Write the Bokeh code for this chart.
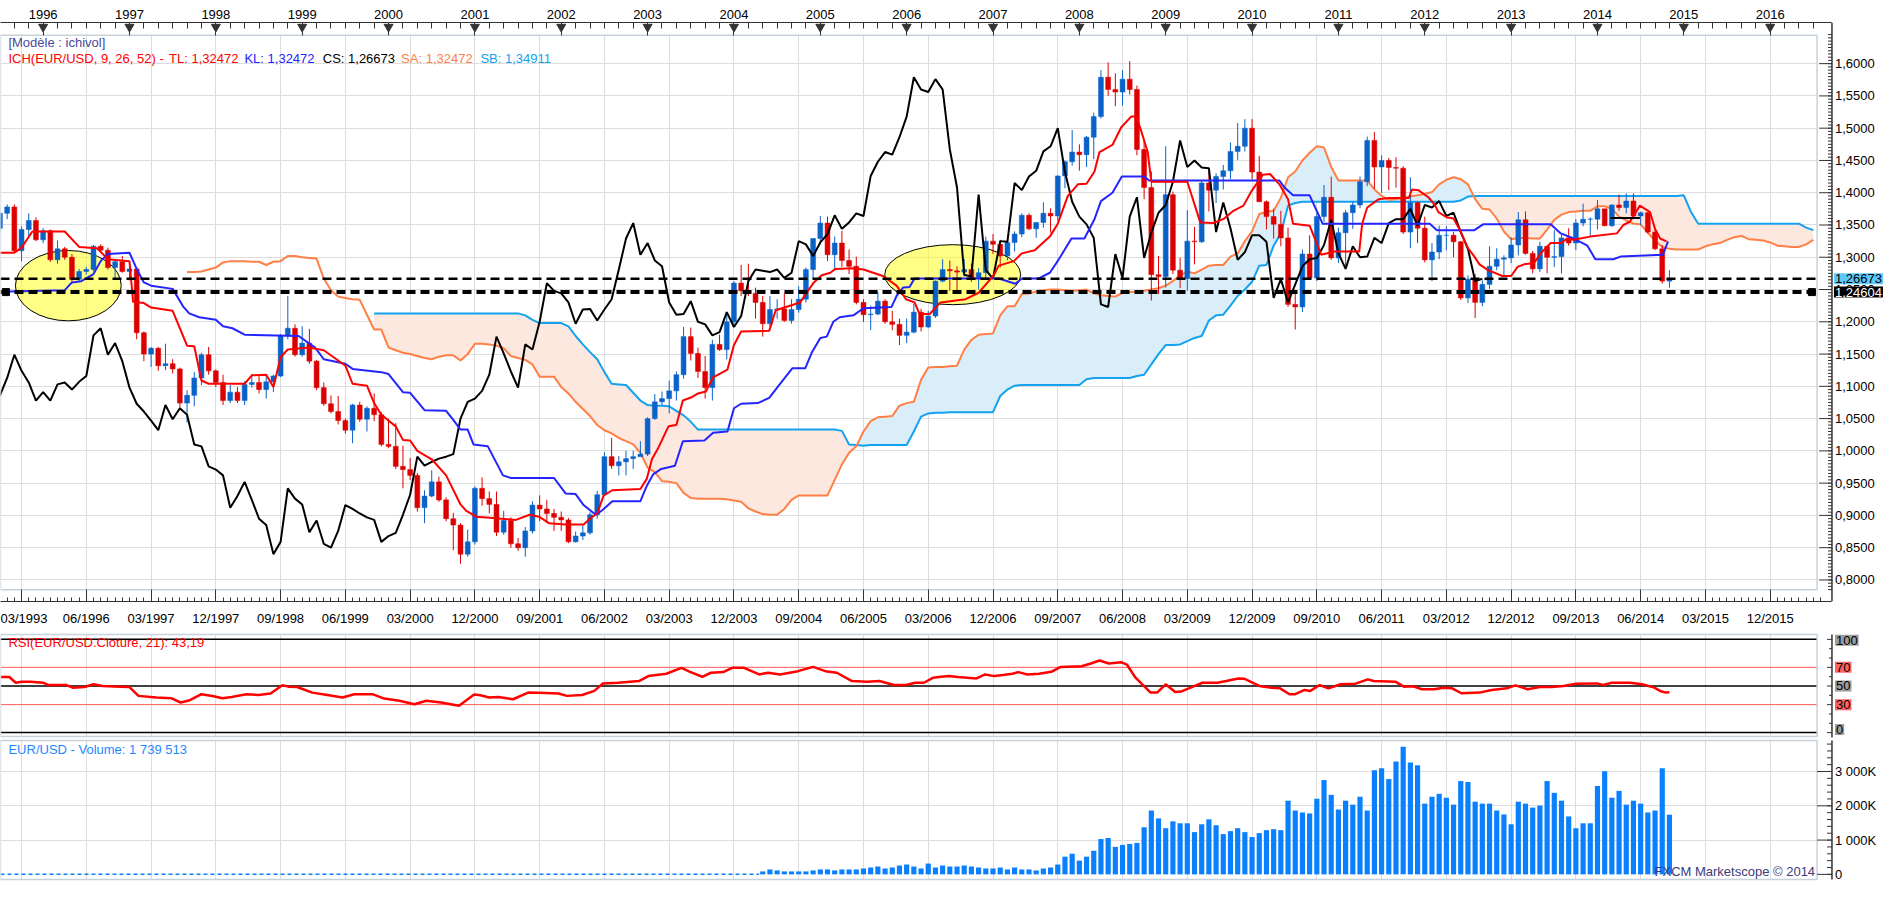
import numpy as np
from bokeh.plotting import figure
from bokeh.models import Range1d, LinearAxis, FixedTicker, Label, Grid
from bokeh.layouts import column
from bokeh.embed import file_html
from bokeh.resources import INLINE
from bokeh.core.properties import value

# ---------------- DATA (x = month index, 1 = Jan 1996) ----------------
FIRST_MONTH = -6
FIRST_OPEN = 1.345
CLOSE = [1.368, 1.378, 1.310, 1.343, 1.357, 1.327,
         1.341, 1.296, 1.313, 1.300, 1.266, 1.278, 1.281, 1.317, 1.311, 1.284, 1.293, 1.278,
         1.282, 1.183, 1.150, 1.159, 1.132, 1.135, 1.127, 1.074, 1.086, 1.113, 1.149, 1.124,
         1.106, 1.078, 1.091, 1.078, 1.103, 1.106, 1.095, 1.107, 1.116, 1.179, 1.190, 1.149,
         1.167, 1.139, 1.098, 1.073, 1.061, 1.047, 1.032, 1.071, 1.049, 1.066, 1.056, 1.010,
         1.007, 0.976, 0.971, 0.962, 0.912, 0.930, 0.952, 0.924, 0.895, 0.885, 0.840, 0.859,
         0.942, 0.926, 0.917, 0.874, 0.892, 0.856, 0.850, 0.876, 0.916, 0.910, 0.903, 0.897,
         0.893, 0.859, 0.868, 0.873, 0.901, 0.932, 0.991, 0.977, 0.983, 0.988, 0.991, 0.995,
         1.050, 1.076, 1.081, 1.093, 1.118, 1.177, 1.151, 1.123, 1.098, 1.165, 1.157, 1.200,
         1.260, 1.248, 1.244, 1.230, 1.197, 1.219, 1.220, 1.202, 1.219, 1.235, 1.281, 1.329,
         1.353, 1.304, 1.322, 1.295, 1.286, 1.230, 1.211, 1.212, 1.232, 1.200, 1.196, 1.179,
         1.184, 1.215, 1.192, 1.209, 1.263, 1.281, 1.279, 1.277, 1.281, 1.268, 1.276, 1.325,
         1.320, 1.302, 1.323, 1.336, 1.365, 1.344, 1.354, 1.368, 1.364, 1.426, 1.448, 1.463,
         1.459, 1.486, 1.518, 1.579, 1.560, 1.556, 1.576, 1.560, 1.467, 1.408, 1.273, 1.270,
         1.397, 1.280, 1.267, 1.325, 1.324, 1.415, 1.404, 1.425, 1.434, 1.464, 1.472, 1.500,
         1.432, 1.386, 1.363, 1.351, 1.330, 1.227, 1.223, 1.305, 1.268, 1.363, 1.393, 1.299,
         1.338, 1.369, 1.381, 1.417, 1.481, 1.440, 1.450, 1.439, 1.438, 1.339, 1.385, 1.345,
         1.296, 1.308, 1.334, 1.334, 1.324, 1.237, 1.266, 1.230, 1.258, 1.286, 1.297, 1.299,
         1.319, 1.358, 1.306, 1.282, 1.317, 1.300, 1.301, 1.330, 1.322, 1.353, 1.359, 1.359,
         1.375, 1.349, 1.381, 1.377, 1.387, 1.364, 1.369, 1.339, 1.313, 1.263, 1.26673]
HIGH = [1.372, 1.382, 1.382, 1.348, 1.368, 1.362,
        1.345, 1.343, 1.326, 1.316, 1.305, 1.282, 1.285, 1.319, 1.320, 1.315, 1.296, 1.302,
        1.286, 1.285, 1.185, 1.161, 1.161, 1.166, 1.142, 1.129, 1.094, 1.122, 1.152, 1.161,
        1.126, 1.118, 1.102, 1.099, 1.108, 1.119, 1.118, 1.118, 1.118, 1.181, 1.240, 1.196,
        1.193, 1.189, 1.141, 1.106, 1.086, 1.085, 1.050, 1.073, 1.076, 1.069, 1.089, 1.060,
        1.050, 1.043, 1.008, 0.989, 0.966, 0.939, 0.970, 0.960, 0.928, 0.904, 0.888, 0.878,
        0.945, 0.959, 0.937, 0.937, 0.907, 0.897, 0.865, 0.882, 0.922, 0.931, 0.924, 0.910,
        0.906, 0.896, 0.875, 0.885, 0.905, 0.938, 0.998, 1.020, 0.992, 1.000, 1.000, 1.015,
        1.052, 1.088, 1.092, 1.109, 1.123, 1.192, 1.191, 1.160, 1.147, 1.172, 1.180, 1.215,
        1.263, 1.288, 1.290, 1.253, 1.240, 1.240, 1.235, 1.244, 1.235, 1.255, 1.284, 1.329,
        1.364, 1.363, 1.332, 1.341, 1.312, 1.301, 1.235, 1.225, 1.247, 1.235, 1.217, 1.205,
        1.205, 1.228, 1.220, 1.217, 1.264, 1.297, 1.295, 1.286, 1.297, 1.290, 1.283, 1.332,
        1.336, 1.327, 1.328, 1.340, 1.368, 1.368, 1.354, 1.385, 1.376, 1.427, 1.450, 1.497,
        1.475, 1.488, 1.524, 1.590, 1.602, 1.585, 1.590, 1.604, 1.566, 1.481, 1.433, 1.302,
        1.472, 1.402, 1.299, 1.373, 1.347, 1.419, 1.433, 1.430, 1.443, 1.478, 1.508, 1.514,
        1.514, 1.457, 1.388, 1.375, 1.372, 1.346, 1.243, 1.312, 1.334, 1.369, 1.412, 1.425,
        1.346, 1.373, 1.386, 1.425, 1.487, 1.494, 1.458, 1.454, 1.455, 1.441, 1.424, 1.385,
        1.363, 1.322, 1.349, 1.348, 1.339, 1.325, 1.272, 1.274, 1.264, 1.317, 1.314, 1.303,
        1.331, 1.370, 1.371, 1.310, 1.324, 1.318, 1.342, 1.335, 1.345, 1.359, 1.383, 1.362,
        1.389, 1.374, 1.382, 1.397, 1.399, 1.399, 1.371, 1.370, 1.345, 1.319, 1.280]
LOW = [1.340, 1.359, 1.307, 1.294, 1.331, 1.325,
       1.322, 1.293, 1.290, 1.296, 1.262, 1.262, 1.273, 1.278, 1.308, 1.281, 1.268, 1.276,
       1.264, 1.173, 1.139, 1.130, 1.124, 1.125, 1.120, 1.067, 1.044, 1.069, 1.102, 1.118,
       1.099, 1.071, 1.074, 1.074, 1.071, 1.098, 1.089, 1.081, 1.091, 1.114, 1.173, 1.146,
       1.146, 1.135, 1.094, 1.070, 1.058, 1.041, 1.027, 1.012, 1.045, 1.030, 1.046, 1.007,
       1.004, 0.972, 0.942, 0.955, 0.906, 0.888, 0.928, 0.921, 0.891, 0.846, 0.825, 0.836,
       0.855, 0.915, 0.903, 0.868, 0.870, 0.850, 0.845, 0.836, 0.872, 0.891, 0.888, 0.876,
       0.876, 0.857, 0.858, 0.862, 0.870, 0.895, 0.930, 0.972, 0.962, 0.962, 0.972, 0.992,
       0.992, 1.048, 1.071, 1.058, 1.078, 1.112, 1.140, 1.113, 1.081, 1.078, 1.155, 1.142,
       1.196, 1.240, 1.240, 1.205, 1.177, 1.193, 1.205, 1.200, 1.197, 1.214, 1.230, 1.267,
       1.320, 1.294, 1.281, 1.285, 1.274, 1.227, 1.200, 1.187, 1.210, 1.197, 1.187, 1.164,
       1.167, 1.182, 1.185, 1.190, 1.206, 1.261, 1.248, 1.248, 1.270, 1.262, 1.250, 1.269,
       1.305, 1.284, 1.295, 1.309, 1.331, 1.342, 1.330, 1.346, 1.338, 1.357, 1.407, 1.442,
       1.434, 1.440, 1.452, 1.515, 1.550, 1.534, 1.535, 1.552, 1.458, 1.390, 1.233, 1.243,
       1.253, 1.274, 1.252, 1.248, 1.289, 1.322, 1.371, 1.384, 1.405, 1.421, 1.451, 1.464,
       1.421, 1.386, 1.343, 1.329, 1.317, 1.223, 1.188, 1.215, 1.265, 1.263, 1.355, 1.296,
       1.291, 1.287, 1.344, 1.376, 1.410, 1.406, 1.400, 1.404, 1.408, 1.336, 1.314, 1.322,
       1.292, 1.263, 1.297, 1.311, 1.300, 1.234, 1.229, 1.206, 1.224, 1.251, 1.280, 1.269,
       1.291, 1.303, 1.304, 1.275, 1.277, 1.275, 1.285, 1.275, 1.318, 1.311, 1.348, 1.332,
       1.343, 1.348, 1.347, 1.372, 1.368, 1.360, 1.350, 1.337, 1.311, 1.259, 1.2527]
CHIKOU_SHIFT = 26

TENKAN = [(-6, 1.307), (-4, 1.307), (-3, 1.315), (-1.5, 1.340), (3, 1.340), (5, 1.316), (7.5, 1.314),
          (9, 1.297), (12, 1.294), (12.5, 1.231), (14, 1.229), (15, 1.222), (18, 1.217), (20, 1.163),
          (21, 1.162), (22, 1.109), (23, 1.104), (28, 1.104), (29, 1.117), (31, 1.118), (32, 1.099),
          (33, 1.145), (34, 1.157), (37, 1.160), (39, 1.156), (41, 1.140), (42, 1.132), (43, 1.104),
          (45, 1.101), (46, 1.074), (47, 1.056), (49, 1.038), (50, 1.017), (51, 1.016), (52, 1.000),
          (54, 0.987), (56, 0.962), (58, 0.917), (58.8, 0.907), (60.2, 0.898), (62.5, 0.896),
          (65.7, 0.893), (67.6, 0.901), (68.9, 0.898), (70.3, 0.888), (72.6, 0.886), (75.1, 0.886),
          (76.1, 0.896), (77, 0.903), (77.9, 0.931), (79.1, 0.939), (83, 0.941), (83.9, 0.957),
          (84.6, 0.987), (85.5, 1.005), (86.9, 1.038), (88, 1.040), (88.9, 1.078), (90.1, 1.083),
          (91, 1.089), (92.1, 1.092), (93.1, 1.114), (95.1, 1.126), (96, 1.164), (97, 1.185),
          (100.9, 1.186), (101.8, 1.218), (105.2, 1.230), (107.1, 1.261), (108.2, 1.272),
          (109.4, 1.276), (110.1, 1.282), (112.4, 1.283), (114, 1.281), (116.7, 1.271),
          (118.6, 1.256), (119.9, 1.235), (121.1, 1.230), (121.8, 1.212), (123.2, 1.212),
          (124.7, 1.230), (128.2, 1.235), (130, 1.245), (132.1, 1.272), (132.8, 1.287),
          (134.9, 1.294), (136, 1.306), (137.8, 1.311), (139.9, 1.332), (141, 1.352), (142.4, 1.395),
          (143.8, 1.413), (145, 1.414), (146.1, 1.433), (146.8, 1.463), (148.6, 1.474), (149.8, 1.501),
          (151.2, 1.518), (151.9, 1.518), (152.5, 1.499), (153.5, 1.463), (154, 1.417), (159, 1.417),
          (160.8, 1.354), (162.6, 1.353), (164, 1.359), (165.4, 1.372), (166.8, 1.380), (167.9, 1.402),
          (169.5, 1.428), (170.5, 1.429), (171.8, 1.413), (173, 1.390), (173.7, 1.352), (176, 1.349),
          (177.6, 1.304), (179.5, 1.309), (182.9, 1.309), (183.3, 1.352), (184, 1.377), (185.6, 1.390),
          (187, 1.392), (189.8, 1.392), (190.2, 1.405), (191.1, 1.404), (192.5, 1.393), (193.4, 1.381),
          (193.9, 1.370), (195, 1.362), (196, 1.360), (196.9, 1.342), (198, 1.314), (198.9, 1.301),
          (199.6, 1.289), (200.8, 1.280), (202.8, 1.271), (204, 1.271), (204.9, 1.285), (205.8, 1.289),
          (207.2, 1.291), (208.1, 1.306), (209.5, 1.322), (210.9, 1.322), (211.8, 1.329), (212.7, 1.327),
          (213.6, 1.329), (215, 1.332), (218.7, 1.337), (219.6, 1.350), (220.5, 1.355), (221.9, 1.380),
          (223.3, 1.370), (224, 1.344), (224.7, 1.329), (225.6, 1.32472)]
KIJUN = [(-4.6, 1.247), (3, 1.249), (4, 1.261), (5.3, 1.263), (7, 1.274), (8, 1.294), (9, 1.305),
         (12, 1.307), (13, 1.282), (14, 1.261), (15, 1.256), (18, 1.251), (19.5, 1.223), (20.3, 1.213),
         (21.7, 1.207), (24, 1.203), (25, 1.193), (26.3, 1.190), (28, 1.180), (35.5, 1.178),
         (37.8, 1.160), (39, 1.142), (42, 1.135), (43, 1.127), (47, 1.122), (48, 1.119), (50, 1.091),
         (51, 1.090), (53, 1.063), (56, 1.062), (57, 1.048), (58, 1.033), (59, 1.033), (59.8, 1.010),
         (61.8, 1.007), (63.9, 0.962), (65, 0.958), (71, 0.958), (72.6, 0.934), (74, 0.933),
         (75.1, 0.916), (76.8, 0.901), (77.7, 0.908), (79.1, 0.922), (83, 0.922), (83.9, 0.946),
         (84.8, 0.964), (85.9, 0.972), (87.8, 0.977), (88.9, 1.015), (91.9, 1.016), (93.1, 1.028),
         (95.1, 1.030), (96, 1.066), (97, 1.073), (99.3, 1.074), (100.9, 1.082), (102, 1.098),
         (104.1, 1.128), (105.9, 1.128), (106.8, 1.152), (108, 1.175), (108.9, 1.177), (109.8, 1.200),
         (110.7, 1.207), (112.6, 1.210), (114, 1.221), (117.9, 1.223), (118.6, 1.240), (119.5, 1.253),
         (120.4, 1.254), (121.1, 1.267), (132.8, 1.267), (135.1, 1.259), (136, 1.267), (138.3, 1.267),
         (139.9, 1.276), (141.1, 1.296), (142.9, 1.329), (144.7, 1.329), (146.1, 1.359), (147, 1.387),
         (148.6, 1.400), (149.9, 1.425), (153, 1.425), (153.7, 1.419), (171.8, 1.419), (172.5, 1.408),
         (173.7, 1.396), (176, 1.396), (177.8, 1.352), (192.7, 1.352), (193.7, 1.342), (198.9, 1.342),
         (200.1, 1.351), (209.5, 1.351), (210.9, 1.337), (212.7, 1.329), (214.6, 1.318), (215.7, 1.297),
         (218.2, 1.297), (219.2, 1.301), (225.1, 1.304), (225.8, 1.32472)]

SSA_START = 20
SSA = [1.277, 1.277, 1.278, 1.281, 1.284, 1.292, 1.294, 1.294, 1.294, 1.293,
       1.293, 1.288, 1.293, 1.294, 1.302, 1.302, 1.300, 1.299, 1.298, 1.267,
       1.249, 1.239, 1.237, 1.235, 1.234, 1.211, 1.188, 1.188, 1.160, 1.156,
       1.152, 1.150, 1.147, 1.144, 1.142, 1.146, 1.148, 1.148, 1.140, 1.150,
       1.166, 1.166, 1.165, 1.163, 1.159, 1.147, 1.144, 1.141, 1.134, 1.115,
       1.115, 1.115, 1.099, 1.089, 1.076, 1.065, 1.054, 1.040, 1.032, 1.027,
       1.020, 1.015, 1.010, 0.997, 0.974, 0.967, 0.953, 0.952, 0.950, 0.935,
       0.927, 0.926, 0.926, 0.926, 0.926, 0.925, 0.923, 0.921, 0.911, 0.906,
       0.902, 0.901, 0.901, 0.910, 0.924, 0.931, 0.931, 0.931, 0.931, 0.931,
       0.955, 0.979, 0.997, 1.007, 1.030, 1.046, 1.052, 1.053, 1.054, 1.070,
       1.074, 1.076, 1.110, 1.129, 1.130, 1.130, 1.131, 1.132, 1.157, 1.172,
       1.180, 1.181, 1.182, 1.210, 1.224, 1.224, 1.243, 1.244, 1.247, 1.249,
       1.250, 1.250, 1.249, 1.248, 1.249, 1.250, 1.244, 1.241, 1.240, 1.239,
       1.245, 1.246, 1.247, 1.248, 1.250, 1.252, 1.256, 1.263, 1.272, 1.278,
       1.275, 1.281, 1.287, 1.288, 1.288, 1.301, 1.306, 1.325, 1.340, 1.367,
       1.370, 1.372, 1.392, 1.424, 1.433, 1.450, 1.462, 1.472, 1.470, 1.440,
       1.419, 1.419, 1.419, 1.419, 1.419, 1.405, 1.395, 1.389, 1.390, 1.392,
       1.394, 1.396, 1.398, 1.401, 1.413, 1.420, 1.424, 1.421, 1.413, 1.390,
       1.375, 1.374, 1.360, 1.340, 1.328, 1.330, 1.330, 1.329, 1.329, 1.343,
       1.358, 1.366, 1.370, 1.371, 1.372, 1.372, 1.379, 1.379, 1.375, 1.363,
       1.357, 1.352, 1.351, 1.338, 1.326, 1.316, 1.313, 1.312, 1.312, 1.312,
       1.312, 1.317, 1.320, 1.322, 1.327, 1.331, 1.333, 1.328, 1.327, 1.326,
       1.323, 1.318, 1.317, 1.316, 1.316, 1.320, 1.327]
SSB_START = 46
SSB = [1.213, 1.213, 1.213, 1.213, 1.213, 1.213, 1.213, 1.213, 1.213, 1.213,
       1.213, 1.213, 1.213, 1.213, 1.213, 1.213, 1.213, 1.213, 1.213, 1.213,
       1.213, 1.210, 1.203, 1.198, 1.198, 1.198, 1.198, 1.193, 1.178, 1.165,
       1.153, 1.142, 1.122, 1.104, 1.103, 1.102, 1.090, 1.078, 1.071, 1.070,
       1.070, 1.069, 1.062, 1.055, 1.045, 1.033, 1.033, 1.033, 1.033, 1.033,
       1.033, 1.033, 1.033, 1.033, 1.033, 1.033, 1.033, 1.033, 1.033, 1.033,
       1.033, 1.033, 1.033, 1.033, 1.033, 1.031, 1.010, 1.009, 1.008, 1.009,
       1.009, 1.009, 1.009, 1.009, 1.009, 1.030, 1.053, 1.058, 1.059, 1.059,
       1.060, 1.060, 1.060, 1.060, 1.060, 1.060, 1.060, 1.085, 1.095, 1.101,
       1.102, 1.102, 1.102, 1.102, 1.102, 1.102, 1.102, 1.102, 1.102, 1.111,
       1.113, 1.113, 1.113, 1.113, 1.113, 1.113, 1.116, 1.118, 1.134, 1.150,
       1.164, 1.164, 1.165, 1.170, 1.175, 1.178, 1.202, 1.210, 1.211, 1.225,
       1.240, 1.250, 1.262, 1.287, 1.288, 1.318, 1.337, 1.380, 1.384, 1.386,
       1.386, 1.386, 1.386, 1.386, 1.386, 1.386, 1.386, 1.386, 1.386, 1.386,
       1.386, 1.386, 1.386, 1.386, 1.386, 1.386, 1.386, 1.386, 1.386, 1.386,
       1.386, 1.388, 1.394, 1.395, 1.395, 1.395, 1.395, 1.395, 1.395, 1.395,
       1.395, 1.395, 1.395, 1.395, 1.395, 1.395, 1.395, 1.395, 1.395, 1.395,
       1.395, 1.395, 1.395, 1.395, 1.395, 1.395, 1.395, 1.395, 1.395, 1.395,
       1.395, 1.395, 1.396, 1.370, 1.352, 1.352, 1.352, 1.352, 1.352, 1.352,
       1.352, 1.352, 1.352, 1.352, 1.352, 1.352, 1.352, 1.352, 1.352, 1.346,
       1.342]

RSI = [(-5.9, 59.6), (-4.7, 59.6), (-3.8, 53.5), (-3, 54.6), (-1.75, 54.6), (0, 53.5), (0.75, 51.0),
       (3.25, 51.0), (4.1, 48.2), (5.75, 48.9), (7, 51.8), (8.25, 50.0), (10.75, 49.3), (12, 48.9),
       (13.25, 39.4), (15.75, 37.6), (17.8, 36.9), (19.1, 32.3), (20.4, 34.8), (22, 41.2), (23.7, 39.0),
       (24.9, 36.9), (26.2, 38.3), (28.25, 41.2), (29.9, 40.4), (31.6, 41.9), (33.25, 50.7), (34.1, 49.3),
       (35.3, 48.9), (37.4, 42.9), (39.5, 40.4), (41.6, 37.6), (43.25, 41.2), (45.75, 41.2), (47.4, 36.5),
       (49.5, 34.1), (51.6, 30.5), (53.25, 34.1), (55.3, 32.3), (57.8, 28.8), (59.9, 40.8), (60.75, 40.1),
       (62, 37.6), (63.25, 38.3), (65.3, 35.8), (67.4, 42.9), (69.9, 42.6), (71.6, 41.9), (72.8, 39.4),
       (74.9, 40.4), (76.6, 44.7), (77.8, 52.8), (79.9, 53.5), (82.8, 55.3), (84.1, 60.6), (86.6, 63.1),
       (88.7, 69.5), (89.9, 65.2), (91.6, 59.9), (92.8, 64.2), (94.5, 64.9), (95.75, 69.5), (97.4, 69.5),
       (99.5, 62.4), (100.75, 64.2), (102.4, 62.4), (104.9, 65.9), (107, 70.5), (108.7, 65.9),
       (110.3, 64.2), (112.4, 55.3), (114.5, 54.6), (116.2, 55.3), (118.25, 51.0), (119.9, 51.0),
       (121.2, 53.5), (122.4, 53.5), (123.7, 58.9), (124.75, 59.9), (125.9, 60.6), (127.1, 59.6),
       (129.7, 58.1), (130.9, 62.4), (132.2, 60.6), (133.4, 61.7), (134.7, 63.1), (135.5, 64.9),
       (136.8, 62.4), (138.4, 63.1), (140.1, 65.2), (141.4, 70.5), (144.3, 71.2), (145.6, 74.1),
       (146.8, 77.3), (148.1, 74.1), (149.8, 75.5), (150.6, 73.0), (151.8, 58.9), (153.9, 42.9),
       (154.8, 42.9), (156, 51.8), (157.3, 43.6), (158.1, 44.0), (159.8, 49.3), (161.1, 53.5),
       (163.2, 53.5), (164.4, 55.3), (166.1, 58.1), (166.9, 57.8), (169, 50.0), (170.7, 48.2),
       (171.9, 47.5), (173.2, 41.2), (174, 41.2), (175.3, 45.8), (176.1, 44.7), (177.4, 51.0),
       (178.6, 47.5), (180.3, 51.8), (182.4, 52.5), (184.1, 57.1), (184.9, 55.3), (187.9, 54.6),
       (189.1, 49.3), (190.4, 49.6), (191.6, 46.5), (193.3, 46.5), (194.6, 48.2), (195.8, 47.5),
       (197.1, 42.2), (199.6, 42.9), (201.3, 45.8), (203.4, 47.5), (204.6, 50.7), (206.3, 46.5),
       (208, 48.9), (209.6, 48.9), (211.3, 50.0), (213, 52.5), (215.9, 52.8), (216.8, 51.0),
       (218, 53.5), (220.5, 53.5), (222.2, 51.8), (223.9, 48.2), (224.7, 44.7), (225.5, 42.9),
       (226, 43.19)]
RSI_LEVELS_BLACK = [0, 50, 100]
RSI_LEVELS_RED = [30, 70]
RSI_MINOR = [10, 20, 40, 60, 80, 90]

VOL_START = 100
VOLUME_K = [86, 143, 115, 86, 86, 86, 86, 115, 143, 143,
            115, 143, 143, 143, 172, 200, 229, 172, 200, 258,
            287, 229, 172, 315, 200, 258, 229, 229, 258, 229,
            200, 172, 172, 200, 143, 200, 143, 143, 115, 172,
            200, 287, 516, 602, 401, 516, 688, 1032, 1060, 802,
            860, 888, 917, 1375, 1862, 1633, 1347, 1547, 1490, 1490,
            1232, 1461, 1605, 1433, 1175, 1261, 1347, 1232, 1089, 1203,
            1289, 1318, 1289, 2149, 1862, 1805, 1777, 2206, 2751, 2321,
            1891, 2149, 2034, 2264, 1862, 3037, 3095, 2779, 3295, 3725,
            3266, 3181, 2063, 2264, 2350, 2235, 2034, 2722, 2693, 2120,
            2063, 2063, 1862, 1748, 1461, 2120, 2063, 1948, 2006, 2722,
            2378, 2149, 1691, 1347, 1490, 1490, 2579, 3009, 2235, 2436,
            2034, 2149, 2063, 1805, 1862, 3095, 1740]
VOLUME_LAST = "1 739 513"
VOL_ZERO_END = 99.5
VOL_TICKS = [0, 1000, 2000, 3000]
VOL_TICK_LABELS = ["0", "1 000K", "2 000K", "3 000K"]

LAST_CLOSE = 1.26673
SUPPORT = 1.24604
SUPPORT_MARK_K = [-5.17, 245.8]
MARK_SEG_K = [217.8, 221.9]
MARK_SEG_P = [1.361, 1.361]
ELLIPSE_K = [3.5, 126.4]
ELLIPSE_P = [1.256, 1.273]
ELLIPSE_W = [14.7, 18.9]
ELLIPSE_H = [0.109, 0.093]

YEAR_LABELS = ["1996", "1997", "1998", "1999", "2000", "2001", "2002", "2003", "2004", "2005",
               "2006", "2007", "2008", "2009", "2010", "2011", "2012", "2013", "2014", "2015", "2016"]
DATE_LABELS = ["03/1993", "06/1996", "03/1997", "12/1997", "09/1998", "06/1999", "03/2000",
               "12/2000", "09/2001", "06/2002", "03/2003", "12/2003", "09/2004", "06/2005",
               "03/2006", "12/2006", "09/2007", "06/2008", "03/2009", "12/2009", "09/2010",
               "06/2011", "03/2012", "12/2012", "09/2013", "06/2014", "03/2015", "12/2015"]
PRICE_TICKS = [0.80, 0.85, 0.90, 0.95, 1.00, 1.05, 1.10, 1.15, 1.20, 1.25, 1.30, 1.35, 1.40,
               1.45, 1.50, 1.55, 1.60]

# ---------------- styling / geometry ----------------
FONT = "Liberation Sans"
UP, DOWN = "#0a62c8", "#dc0000"
TENKAN_C, KIJUN_C, SSA_C, SSB_C = "#ff0000", "#2424ff", "#ff7f45", "#12a2f0"
PEACH, SKY = "#fde8df", "#daeefa"
GRID, FRAME, AXIS = "#dddddd", "#c8d2dc", "#333333"
VOL_C = "#0a80ff"
W = 1887
PXM = 7.257            # reference pixels per month


def kx(px):            # reference pixel x -> month index
    return (px - 43.0) / PXM


def pp(py):            # reference pixel y -> price
    return 1.6 - (py - 64.0) / 658.75


def rr(py):            # reference pixel y -> RSI
    return (747.0 - py) / 0.95


def vv(py):            # reference pixel y -> volume (K)
    return (891.7 - py) / 0.035


X0, XE = kx(0), kx(1903)       # full frame
XF, XA = kx(1832), kx(1847)    # inner frame edge, axis line
XL = kx(1850)                  # axis labels
xr = Range1d(X0, XE)
DATE_K = [-3 + 9 * i for i in range(len(DATE_LABELS))]
YEAR_K = [12 * i for i in range(len(YEAR_LABELS))]


def fmt(v, n):
    return f"{v:.{n}f}".replace(".", ",")


def style_axis(ax, ticks, minor, overrides, tin, minin, standoff):
    ax.ticker = FixedTicker(ticks=ticks, minor_ticks=minor)
    ax.major_label_overrides = overrides
    ax.major_tick_in, ax.major_tick_out = tin, 0
    ax.minor_tick_in, ax.minor_tick_out = minin, 0
    ax.axis_line_color = AXIS
    ax.major_tick_line_color = AXIS
    ax.minor_tick_line_color = AXIS
    ax.major_label_text_font = FONT
    ax.major_label_text_font_size = "13px"
    ax.major_label_text_color = "black"
    ax.major_label_standoff = standoff
    ax.bounds = (X0, XA)


def make_fig(height, yr, top, bottom, xloc=None):
    p = figure(width=W, height=height, x_range=xr, y_range=yr, output_backend="svg",
               toolbar_location=None, x_axis_location=xloc, y_axis_location=None,
               min_border_left=0, min_border_right=0, min_border_top=top, min_border_bottom=bottom,
               background_fill_color="white", border_fill_color="white", outline_line_color=None)
    for g in p.grid:
        g.visible = False
    p.add_layout(Grid(dimension=0, ticker=FixedTicker(ticks=DATE_K), grid_line_color=GRID))
    return p


def white(p, l, r, b, t):
    p.quad(left=[l], right=[r], bottom=[b], top=[t], fill_color="white", line_color=None)


def frame(p, b, t):
    p.quad(left=[X0], right=[XF], bottom=[b], top=[t], fill_color=None, line_color=FRAME, line_width=1.5)


def right_axis(p, lo, hi, majors, minors, maj_len, min_len, labels=None):
    p.segment(x0=[XA], y0=[lo], x1=[XA], y1=[hi], color=AXIS, line_width=1.5)
    p.segment(x0=[XA - maj_len / PXM] * len(majors), y0=majors, x1=[XA] * len(majors), y1=majors,
              color=AXIS, line_width=1)
    p.segment(x0=[XA - min_len / PXM] * len(minors), y0=minors, x1=[XA] * len(minors), y1=minors,
              color=AXIS, line_width=1)
    if labels is not None:
        p.text(x=[XL] * len(majors), y=majors, text=labels, text_font=value(FONT),
               text_font_size="13px", text_baseline="middle", text_align="left", text_color="black")


def text(p, x, y, s, color, align="left", size="13px", **kw):
    p.add_layout(Label(x=x, y=y, text=s, text_color=color, text_font=FONT, text_font_size=size,
                       text_baseline="middle", text_align=align, **kw))


# ---------------- main price panel ----------------
p1 = make_fig(632, Range1d(pp(613), pp(22)), 22, 31, xloc="below")
p1.add_layout(Grid(dimension=1, ticker=FixedTicker(ticks=PRICE_TICKS), grid_line_color=GRID))
style_axis(p1.xaxis[0], DATE_K, list(range(-5, 248)), {k: s for k, s in zip(DATE_K, DATE_LABELS)}, 12, 4, 9)
top_ax = LinearAxis()
style_axis(top_ax, YEAR_K, list(range(-4, 248, 2)), {k: s for k, s in zip(YEAR_K, YEAR_LABELS)}, 13, 6, 4)
p1.add_layout(top_ax, "above")

# cloud
ssa_k = np.arange(SSA_START, SSA_START + len(SSA))
ssb_k = np.arange(SSB_START, SSB_START + len(SSB))
ssa_arr, ssb_arr = np.array(SSA), np.array(SSB)
ssa_on_b = ssa_arr[SSB_START - SSA_START:]
upper = np.maximum(ssa_on_b, ssb_arr)
p1.varea(x=ssb_k, y1=ssa_on_b, y2=upper, fill_color=PEACH)
p1.varea(x=ssb_k, y1=ssb_arr, y2=upper, fill_color=SKY)

# yellow ellipses
p1.ellipse(x=ELLIPSE_K, y=ELLIPSE_P, width=ELLIPSE_W, height=ELLIPSE_H,
           fill_color="#ffff20", fill_alpha=0.55, line_color="black", line_width=1)

p1.line(ssb_k, ssb_arr, color=SSB_C, line_width=2)
p1.line(ssa_k, ssa_arr, color=SSA_C, line_width=2)

# candles
k = np.arange(FIRST_MONTH, FIRST_MONTH + len(CLOSE))
close = np.array(CLOSE)
high, low = np.array(HIGH), np.array(LOW)
opn = np.concatenate([[FIRST_OPEN], close[:-1]])
colors = np.where(close >= opn, UP, DOWN)
p1.segment(x0=k, y0=low, x1=k, y1=high, color=colors, line_width=1)
p1.vbar(x=k, width=0.68, top=np.maximum(opn, close), bottom=np.minimum(opn, close),
        fill_color=colors, line_color=colors, line_width=0.5)

# ichimoku lines
p1.line(k - CHIKOU_SHIFT, close, color="black", line_width=2)
p1.line([a for a, b in KIJUN], [b for a, b in KIJUN], color=KIJUN_C, line_width=2)
p1.line([a for a, b in TENKAN], [b for a, b in TENKAN], color=TENKAN_C, line_width=2)
p1.line(MARK_SEG_K, MARK_SEG_P, color="black", line_width=2)

# horizontal levels
p1.segment(x0=[X0], y0=[LAST_CLOSE], x1=[XF], y1=[LAST_CLOSE], color="black",
           line_width=2.5, line_dash="9 5")
p1.segment(x0=[X0], y0=[SUPPORT], x1=[XF], y1=[SUPPORT], color="black",
           line_width=4, line_dash="9 5")
p1.scatter(x=SUPPORT_MARK_K, y=[SUPPORT, SUPPORT], marker="square", size=7, color="black")

# white margins, inner frame, right price axis
white(p1, XF, XE, pp(613), pp(22))
white(p1, X0, XE, pp(35), pp(22))
white(p1, X0, XE, pp(613), pp(601))
frame(p1, pp(601), pp(35))
price_minor = [round(0.785 + 0.005 * i, 3) for i in range(173)]
right_axis(p1, pp(613), pp(22), PRICE_TICKS, price_minor, 13, 4, [fmt(v, 4) for v in PRICE_TICKS])
p1.scatter(x=YEAR_K, y=[pp(26.5)] * len(YEAR_K), marker="inverted_triangle", size=9, color=AXIS)

# legend texts
text(p1, kx(8), pp(42), "[Modèle : ichivol]", "#4a4a9a")
text(p1, kx(8), pp(59), "ICH(EUR/USD, 9, 26, 52) -", TENKAN_C)
text(p1, kx(170), pp(59), "TL: " + fmt(TENKAN[-1][1], 5), TENKAN_C)
text(p1, kx(246), pp(59), "KL: " + fmt(KIJUN[-1][1], 5), KIJUN_C)
text(p1, kx(325), pp(59), "CS: " + fmt(LAST_CLOSE, 5), "black")
text(p1, kx(404), pp(59), "SA: 1,32472", SSA_C)
text(p1, kx(484), pp(59), "SB: 1,34911", SSB_C)

# price tags on the right axis
text(p1, XA, LAST_CLOSE, fmt(LAST_CLOSE, 5), "black", x_offset=2,
     background_fill_color="#5ec8fb", padding=1)
text(p1, XA, SUPPORT, fmt(SUPPORT, 5), "white", x_offset=2,
     background_fill_color="black", padding=1)

# ---------------- RSI panel ----------------
p2 = make_fig(106, Range1d(rr(753), rr(645)), 0, 0)
for lv in RSI_LEVELS_RED:
    p2.segment(x0=[X0], y0=[lv], x1=[XF], y1=[lv], color="#ff5a5a", line_width=1)
for lv in RSI_LEVELS_BLACK:
    p2.segment(x0=[X0], y0=[lv], x1=[XF], y1=[lv], color="black", line_width=1.5)
p2.line([a for a, b in RSI], [b for a, b in RSI], color="#ff0000", line_width=2.5)
white(p2, XF, XE, rr(753), rr(645))
white(p2, X0, XE, rr(647), rr(645))
white(p2, X0, XE, rr(753), rr(751))
frame(p2, rr(751), rr(647))
right_axis(p2, rr(752), rr(647), sorted(RSI_LEVELS_BLACK + RSI_LEVELS_RED), RSI_MINOR, 5, 3)
text(p2, kx(8), rr(655.5), "RSI(EUR/USD.Cloture, 21): " + fmt(RSI[-1][1], 2), "#ff0000")
for lv in sorted(RSI_LEVELS_BLACK + RSI_LEVELS_RED):
    bg = "#9c9c9c" if lv in RSI_LEVELS_BLACK else "#ff6262"
    lift = 3 if lv == 0 else (-1 if lv == 100 else 0)
    text(p2, XA, lv, str(lv), "black", x_offset=3, y_offset=lift,
         background_fill_color=bg, padding=1)

# ---------------- Volume panel ----------------
p3 = make_fig(144, Range1d(vv(900), vv(753)), 0, 0)
p3.add_layout(Grid(dimension=1, ticker=FixedTicker(ticks=VOL_TICKS[1:]), grid_line_color=GRID))
vol_k = np.arange(VOL_START, VOL_START + len(VOLUME_K))
p3.segment(x0=[X0], y0=[0], x1=[VOL_ZERO_END], y1=[0], color=VOL_C, line_width=1.5, line_dash="4 3")
p3.vbar(x=vol_k, top=VOLUME_K, bottom=0, width=0.72, fill_color=VOL_C, line_color=None)
white(p3, XF, XE, vv(900), vv(753))
white(p3, X0, XE, vv(755), vv(753))
white(p3, X0, XE, vv(900), vv(897))
frame(p3, vv(897), vv(755))
vol_minor = [200 * i for i in range(20)]
right_axis(p3, vv(897), vv(755), VOL_TICKS, vol_minor, 15, 5, VOL_TICK_LABELS)
text(p3, kx(8), vv(764), "EUR/USD - Volume: " + VOLUME_LAST, "#1e88ff")
text(p3, XF, vv(889), "FXCM Marketscope © 2014", "#3c3c7a", align="right", x_offset=-2)

layout = column(p1, p2, p3, spacing=0)
open("out.html", "w").write(file_html(layout, INLINE))
